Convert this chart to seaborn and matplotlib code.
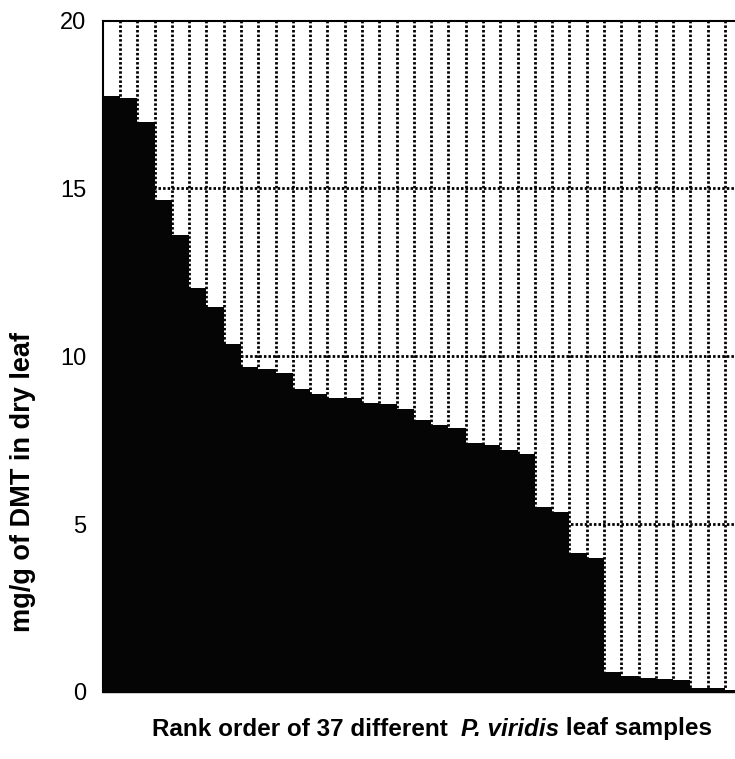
import matplotlib
matplotlib.use("Agg")
import matplotlib.pyplot as plt
import seaborn as sns
import pandas as pd
import numpy as np
from matplotlib.offsetbox import TextArea, HPacker, AnchoredOffsetbox

# ---- data ----
ranks = list(range(1, 38))
dmt_mg_per_g = [17.75, 17.70, 16.97, 14.66, 13.62, 12.04, 11.48, 10.37, 9.68, 9.63,
                9.50, 9.01, 8.89, 8.77, 8.77, 8.62, 8.57, 8.44, 8.10, 7.95,
                7.87, 7.43, 7.37, 7.22, 7.10, 5.52, 5.35, 4.13, 4.00, 0.60,
                0.49, 0.41, 0.38, 0.36, 0.12, 0.12, 0.05]
y_ticks = [0, 5, 10, 15, 20]
y_gridlines = [5, 10, 15]
x_label_parts = ["Rank order of 37 different  ", "P. viridis", " leaf samples"]
y_label = "mg/g of DMT in dry leaf"

sns.set_style("white")
plt.rcParams["font.family"] = ["Liberation Sans", "DejaVu Sans"]
plt.rcParams["text.color"] = "black"
plt.rcParams["ytick.color"] = "black"
plt.rcParams["ytick.labelcolor"] = "black"

df = pd.DataFrame({"rank": ranks, "dmt": dmt_mg_per_g})

W, H = 735, 759
fig = plt.figure(figsize=(W / 100, H / 100), dpi=100)
left, right, top, bottom = 102.7, 742.3, 20.5, 692.0
ax = fig.add_axes([left / W, 1 - bottom / H, (right - left) / W, (bottom - top) / H])

sns.barplot(data=df, x="rank", y="dmt", color="black", width=1.0,
            linewidth=0, saturation=1, ax=ax, zorder=3)
for p in ax.patches:
    p.set_facecolor("#050505")

n = len(ranks)
ax.set_xlim(-0.5, n - 0.5)
ax.set_ylim(0, 20)

# gridlines: vertical at every bar boundary, horizontal at 5/10/15
ax.set_xticks([])
ax.set_xticks([k + 0.5 for k in range(n - 1)], minor=True)
ax.tick_params(axis="x", which="both", length=0, labelbottom=False)
ax.grid(False)
dot = (0, (0.9, 0.75))
ax.grid(which="minor", axis="x", color="black", linestyle=dot, linewidth=2.0, zorder=1)
for yv in y_gridlines:
    ax.axhline(yv, color="black", linestyle=dot, linewidth=2.0, zorder=1)
ax.set_axisbelow(True)

ax.set_yticks(y_ticks)
ax.set_yticklabels([str(v) for v in y_ticks], fontsize=17, color="black")
ax.tick_params(axis="y", length=0, pad=12)
ax.set_xlabel("")
ax.set_ylabel("")

for s in ["left", "top"]:
    ax.spines[s].set_visible(True)
    ax.spines[s].set_color("black")
    ax.spines[s].set_linewidth(1.5)
ax.spines["bottom"].set_color("black")
ax.spines["bottom"].set_linewidth(1.0)
ax.spines["right"].set_visible(False)

# y label
fig.text(23 / W, 1 - 482 / H, y_label, rotation=90, ha="center", va="center",
         fontsize=19.5, fontweight="bold", color="black")

# x label with italic species name
fs = 17.5
parts = [
    TextArea(x_label_parts[0], textprops=dict(fontsize=fs, fontweight="bold", color="black")),
    TextArea(x_label_parts[1], textprops=dict(fontsize=fs, fontweight="bold", fontstyle="italic", color="black")),
    TextArea(x_label_parts[2], textprops=dict(fontsize=fs, fontweight="bold", color="black")),
]
box = HPacker(children=parts, align="baseline", pad=0, sep=0)
anch = AnchoredOffsetbox(loc="center", child=box, pad=0, frameon=False,
                         bbox_to_anchor=(432 / W, 1 - 729 / H),
                         bbox_transform=fig.transFigure, borderpad=0)
fig.add_artist(anch)

fig.savefig("out.png", dpi=100)
